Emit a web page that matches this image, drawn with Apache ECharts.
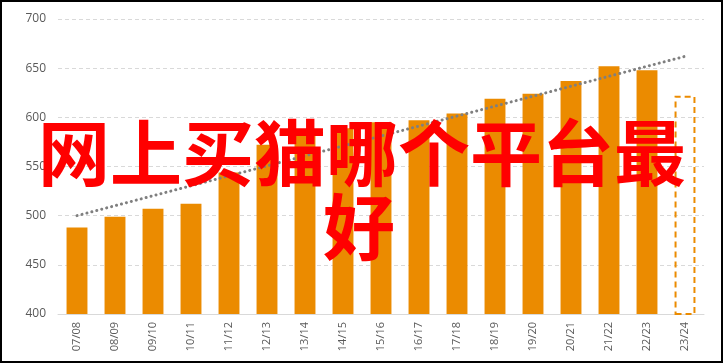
<!DOCTYPE html>
<html>
<head>
<meta charset="utf-8">
<script src="https://cdn.jsdelivr.net/npm/echarts@6/dist/echarts.min.js"></script>
<style>
html,body{margin:0;padding:0;background:#fff;}
#c{width:723px;height:363px;}
</style>
</head>
<body>
<div id="c"></div>
<script>
var categories = ['07/08','08/09','09/10','10/11','11/12','12/13','13/14','14/15','15/16','16/17','17/18','18/19','19/20','20/21','21/22','22/23','23/24'];
var actualValues = [488, 499, 507, 512, 544, 572, 581, 589, 595, 597, 604, 619, 624, 637, 652, 648, null];
var forecastValues = [null, null, null, null, null, null, null, null, null, null, null, null, null, null, null, null, 622];
var trendValues = [500, null, null, null, null, null, null, null, null, null, null, null, null, null, null, null, 662];
var yTicks = {min: 400, max: 700, interval: 50};
var titleLine1 = '网上买猫哪个平台最';
var titleLine2 = '好';

var chart = echarts.init(document.getElementById('c'), null, {renderer: 'canvas'});
var orange = '#EB8B00';
chart.setOption({
  animation: false,
  backgroundColor: '#fff',
  grid: {left: 58, right: 19, top: 19, bottom: 49, containLabel: false},
  xAxis: {
    type: 'category',
    data: categories,
    axisTick: {show: false},
    axisLine: {lineStyle: {color: '#d9d9d9', width: 1}},
    axisLabel: {rotate: 90, color: '#595959', fontSize: 11, fontFamily: 'Open Sans', margin: 8, interval: 0}
  },
  yAxis: {
    type: 'value',
    min: yTicks.min, max: yTicks.max, interval: yTicks.interval,
    axisLine: {show: false},
    axisTick: {show: false},
    axisLabel: {color: '#595959', fontSize: 12, fontFamily: 'Open Sans', margin: 12},
    splitLine: {lineStyle: {color: '#d9d9d9', type: [4, 3], width: 1}}
  },
  series: [
    {
      type: 'bar', data: actualValues, barWidth: '55%',
      itemStyle: {color: orange}
    },
    {
      type: 'bar', data: forecastValues, barWidth: '55%', barGap: '-100%',
      itemStyle: {color: 'rgba(0,0,0,0)', borderColor: orange, borderWidth: 2, borderType: [6, 4]}
    },
    {
      type: 'line', data: trendValues, connectNulls: true, symbol: 'none',
      lineStyle: {color: '#7f7f7f', width: 3, type: [0.1, 5], cap: 'round'},
      z: 5
    }
  ],
  graphic: [
    {
      type: 'text', x: 362, y: 153, z: 100, silent: true,
      style: {
        text: titleLine1, fill: '#ff0000', fontSize: 72, fontWeight: 'bold',
        fontFamily: 'Noto Sans CJK SC', textAlign: 'center', textVerticalAlign: 'middle',
        align: 'center', verticalAlign: 'middle'
      }
    },
    {
      type: 'text', x: 359, y: 227, z: 100, silent: true,
      style: {
        text: titleLine2, fill: '#ff0000', fontSize: 72, fontWeight: 'bold',
        fontFamily: 'Noto Sans CJK SC', textAlign: 'center', textVerticalAlign: 'middle',
        align: 'center', verticalAlign: 'middle'
      }
    },
    {
      type: 'rect', z: 200, silent: true,
      shape: {x: 1, y: 1, width: 721, height: 361},
      style: {fill: 'none', stroke: '#000', lineWidth: 2}
    }
  ]
});
</script>
</body>
</html>
